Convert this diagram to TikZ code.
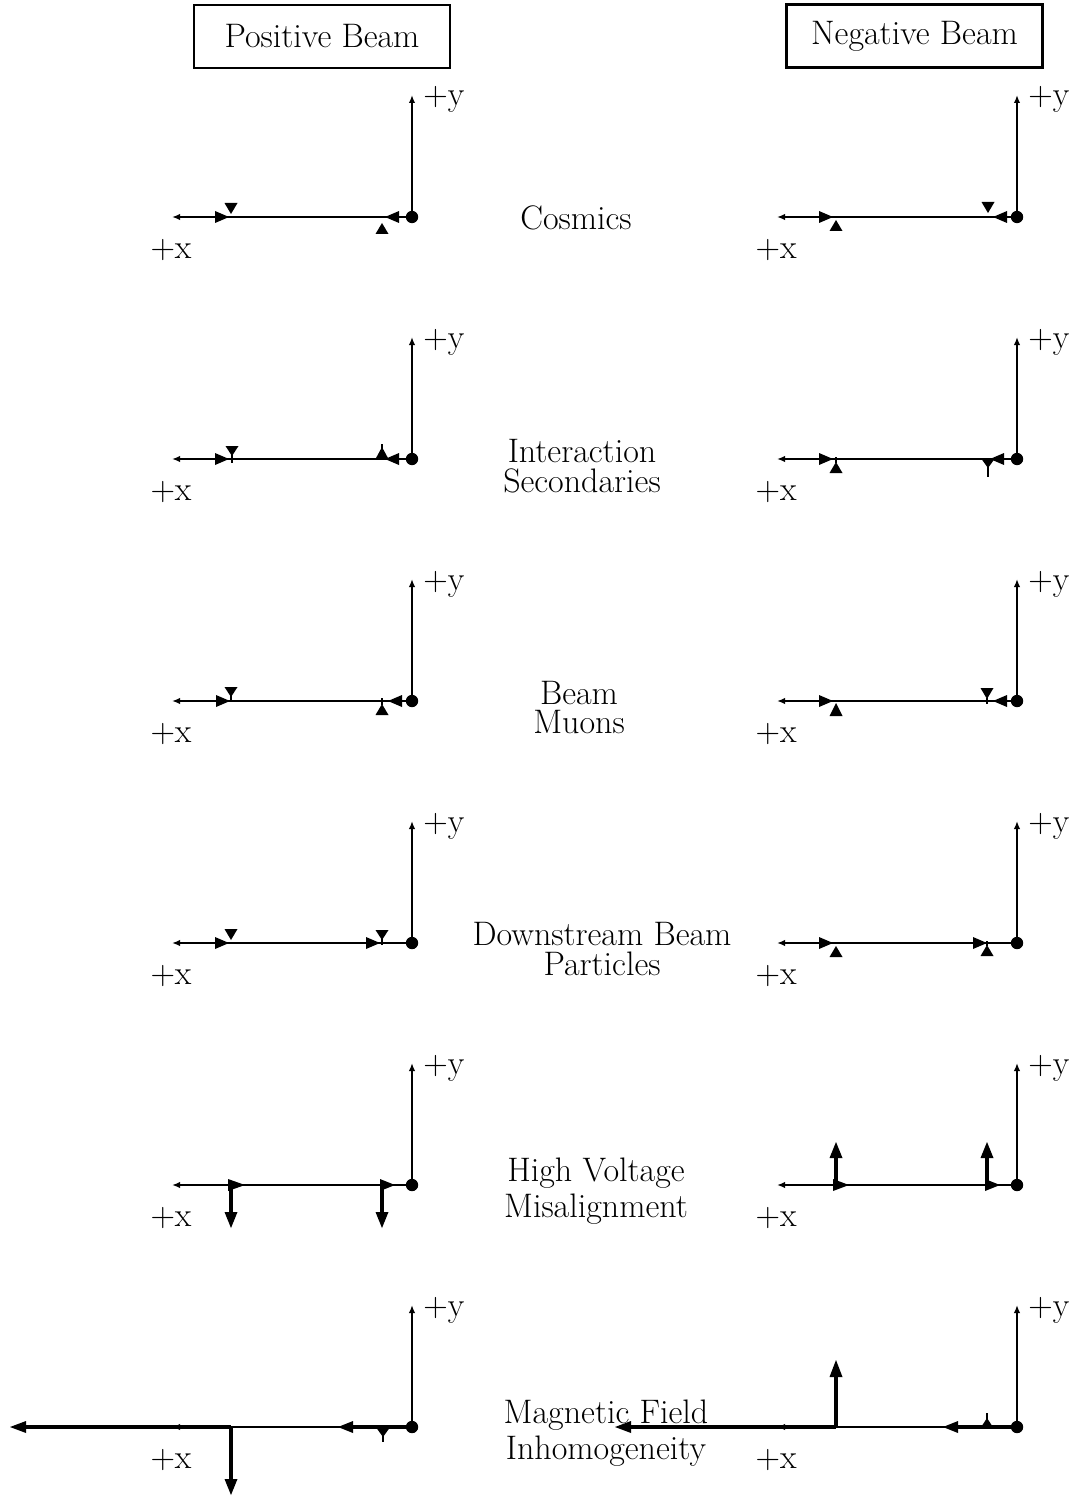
\documentclass[tikz,border=0pt]{standalone}
\usetikzlibrary{arrows.meta}
\newcommand\ahR[3][14]{\fill (#2,#3) -- ++(-#1,-6) -- ++(0,12) -- cycle;}
\newcommand\ahL[3][14]{\fill (#2,#3) -- ++(#1,-6) -- ++(0,12) -- cycle;}
\newcommand\ahD[3][11]{\fill (#2,#3) -- ++(-6.5,-#1) -- ++(13,0) -- cycle;}
\newcommand\ahU[3][11]{\fill (#2,#3) -- ++(-6.5,#1) -- ++(13,0) -- cycle;}
\begin{document}
\begin{tikzpicture}[x=0.5pt,y=-0.5pt,
  lab/.style={font=\fontsize{17}{20}\selectfont, inner sep=0pt},
  twolab/.style={inner sep=0pt,anchor=base,align=center,font=\fontsize{17}{#1}\selectfont},
  ax/.style={line width=1.2pt},
  vec/.style={line width=1.9pt},
  axarr/.style={ax,-{Latex[length=4pt,width=3.2pt]}},
  titlebox/.style={lab,draw,line width=1.1pt,minimum width=128pt,minimum height=31.5pt}
]
\useasboundingbox (0,0) rectangle (1070,1498);

% titles
\node[titlebox] (pos) at (322,36.5) {Positive Beam};
\node[titlebox] (neg) at (914.5,36) {Negative Beam};

% axes
\foreach \y in {217,459,701,943,1185,1427} {
  \foreach \ox/\xend in {412/172, 1017/777} {
    \coordinate (o) at (\ox,\y);
    \coordinate (xe) at (\xend,\y);
    \coordinate (ye) at (\ox,\y-122);
    \draw[axarr] (o) -- (xe);
    \draw[axarr] (o) -- (ye);
    \fill (o) circle[radius=3.1pt];
    \node[lab,anchor=base west] at (\ox+11,\y-111) {+y};
    \node[lab,anchor=base] at (\xend-1,\y+41) {+x};
  }
}

% row labels (base = baseline of last line)
\node[lab,anchor=base] (c1) at (576,229.5) {Cosmics};
\node[twolab=15pt] (c2) at (582,492) {Interaction\\Secondaries};
\node[twolab=14.5pt] (c3) at (579,733) {Beam\\Muons};
\node[twolab=15pt] (c4) at (602,975) {Downstream Beam\\Particles};
\node[twolab=18pt] (c5) at (596,1217) {High Voltage\\Misalignment};
\node[twolab=18pt] (c6) at (606,1459) {Magnetic Field\\Inhomogeneity};

% Row 1: Cosmics
\ahR{229}{217} \ahD{231}{214} \ahL{385}{217} \ahU{382}{223}
\ahR{833}{217} \ahU{836}{220} \ahD{988}{213} \ahL{993}{217}

% Row 2: Interaction secondaries
\ahR{229}{459} \ahD[10]{232}{456} \draw[ax] (232,455)--(232,463);
\ahL{385}{459} \ahU[12]{382}{447} \draw[ax] (382,444)--(382,459);
\ahR{833}{459} \ahU{836}{462} \draw[ax] (836,457)--(836,463);
\ahD[9]{988}{468} \draw[ax] (988,466)--(988,477); \ahL{990}{459}

% Row 3: Beam muons
\ahR{230}{701} \ahD[10]{231}{697} \draw[ax] (231,696)--(231,702);
\ahL{388}{701} \ahU{382}{704} \draw[ax] (382,698)--(382,705);
\ahR{833}{701} \ahU[13]{836}{703}
\ahD{987}{699} \draw[ax] (987,698)--(987,704); \ahL{993}{701}

% Row 4: Downstream beam particles
\ahR{229}{943} \ahD{231}{940}
\ahR{380}{943} \ahD[10]{382}{940} \draw[ax] (382,939)--(382,945);
\ahR{833}{943} \ahU{836}{946}
\ahR{987}{943} \ahU{987}{945} \draw[ax] (987,941)--(987,946);

% Row 5: High voltage misalignment
\draw[vec] (231,1185)--(231,1214); \ahD[16]{231}{1228} \ahR[17]{245}{1185}
\draw[vec] (382,1185)--(382,1214); \ahD[16]{382}{1228} \ahR[15]{395}{1185}
\draw[vec] (836,1185)--(836,1156); \ahU[16]{836}{1142} \ahR[16]{849}{1185}
\draw[vec] (987,1185)--(987,1156); \ahU[16]{987}{1142} \ahR[15]{1000}{1185}

% Row 6: Magnetic field inhomogeneity
\draw[vec] (231,1427)--(22,1427); \ahL[16]{10}{1427}
\draw[vec] (231,1427)--(231,1480); \ahD[16]{231}{1495}
\draw[vec] (350,1427)--(412,1427); \ahL[15]{338}{1427}
\ahD[9]{383}{1437} \draw[ax] (383,1435)--(383,1442);
\draw[vec] (836,1427)--(627,1427); \ahL[16]{615}{1427}
\draw[vec] (836,1427)--(836,1374); \ahU[17]{836}{1360}
\draw[vec] (955,1427)--(1017,1427); \ahL[15]{943}{1427}
\ahU[10]{987}{1418} \draw[ax] (987,1413)--(987,1420);
\end{tikzpicture}
\end{document}
